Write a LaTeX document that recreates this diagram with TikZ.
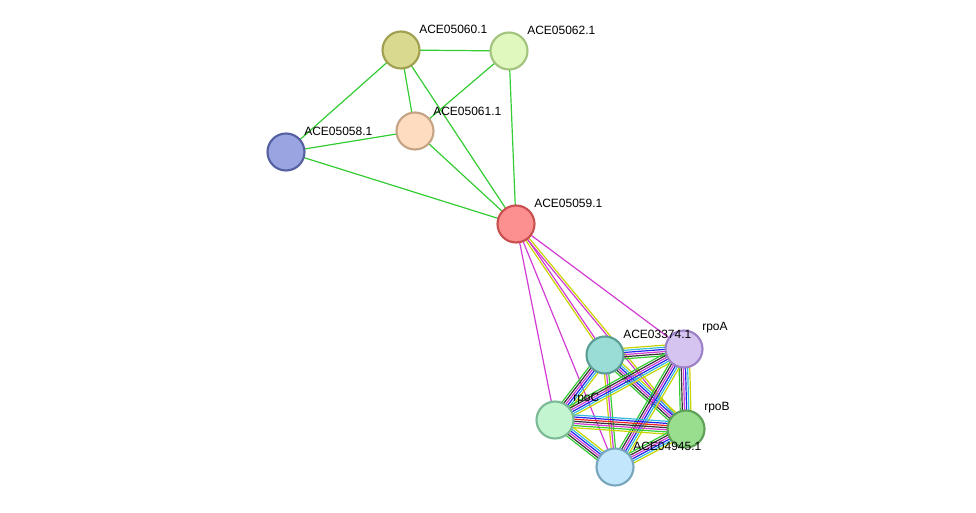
\documentclass[tikz,border=0pt]{standalone}
\usepackage{fontspec}
\setmainfont{Liberation Sans}
\usetikzlibrary{calc}
\definecolor{egr}{HTML}{33CC33}
\definecolor{emg}{HTML}{D23CD2}
\definecolor{eyl}{HTML}{C8D400}
\definecolor{ebk}{HTML}{333333}
\definecolor{ecy}{HTML}{33BBDD}
\definecolor{ebl}{HTML}{2222EE}
\definecolor{erd}{HTML}{EE2222}
\newcommand\bund[4]{%
 \foreach \cl [count=\i] in {#4} {%
  \pgfmathsetmacro\off{(\i-(#3+1)/2)*1.6}
  \draw[\cl,line width=0.9pt] ($(#1)!\off pt!90:(#2)$) -- ($(#2)!\off pt!-90:(#1)$);}}
\newlength\pxu \setlength\pxu{0.75pt}
\tikzset{prot/.style={circle,minimum size=37\pxu,line width=1.6pt,inner sep=0},
 lab/.style={anchor=south west,font=\fontsize{9}{10}\selectfont,inner sep=0}}
\begin{document}
\begin{tikzpicture}[x=0.75pt,y=-0.75pt]
\useasboundingbox (0,0) rectangle (976,513);
\coordinate (A) at (401,50);
\coordinate (B) at (509,51);
\coordinate (C) at (415,131);
\coordinate (D) at (286,152);
\coordinate (E) at (516,224);
\coordinate (F) at (605,355);
\coordinate (G) at (684,349);
\coordinate (H) at (555,420);
\coordinate (I) at (686,429);
\coordinate (J) at (615,467);
\foreach \p/\q in {A/B,A/D,A/C,A/E,B/C,B/E,D/C,D/E,C/E}
  \draw[egr,line width=0.9pt] (\p) -- (\q);
\draw[emg,line width=0.9pt] (E) -- (G);
\draw[emg,line width=0.9pt] (E) -- (H);
\draw[emg,line width=0.9pt] (E) -- (J);
\bund{E}{F}{2}{eyl,emg}
\bund{E}{I}{2}{emg,eyl}
\bund{F}{G}{6}{egr,ebk,emg,ebl,ecy,eyl}
\bund{F}{H}{6}{egr,ebk,emg,ebl,ecy,eyl}
\bund{F}{I}{6}{egr,ebk,emg,ebl,ecy,eyl}
\bund{F}{J}{3}{eyl,emg,egr}
\bund{G}{H}{6}{egr,ebk,emg,ebl,ecy,eyl}
\bund{G}{I}{6}{egr,ebk,emg,ebl,ecy,eyl}
\bund{G}{J}{6}{egr,ebk,emg,ebl,ecy,eyl}
\bund{H}{I}{7}{eyl,egr,emg,ebk,erd,ebl,ecy}
\bund{H}{J}{6}{egr,ebk,emg,ebl,ecy,eyl}
\bund{I}{J}{6}{egr,ebk,emg,ebl,ecy,eyl}
\node[prot,fill={rgb,255:red,217;green,217;blue,143},draw={rgb,255:red,160;green,160;blue,80}] (nA) at (A) {};
\node[prot,fill={rgb,255:red,224;green,247;blue,189},draw={rgb,255:red,163;green,196;blue,126}] (nB) at (B) {};
\node[prot,fill={rgb,255:red,253;green,220;blue,191},draw={rgb,255:red,196;green,164;blue,132}] (nC) at (C) {};
\node[prot,fill={rgb,255:red,154;green,164;blue,224},draw={rgb,255:red,85;green,96;blue,160}] (nD) at (D) {};
\node[prot,fill={rgb,255:red,252;green,144;blue,144},draw={rgb,255:red,200;green,80;blue,80}] (nE) at (E) {};
\node[prot,fill={rgb,255:red,153;green,221;blue,214},draw={rgb,255:red,90;green,158;blue,149}] (nF) at (F) {};
\node[prot,fill={rgb,255:red,213;green,196;blue,240},draw={rgb,255:red,156;green,128;blue,200}] (nG) at (G) {};
\node[prot,fill={rgb,255:red,195;green,245;blue,208},draw={rgb,255:red,122;green,186;blue,149}] (nH) at (H) {};
\node[prot,fill={rgb,255:red,153;green,222;blue,143},draw={rgb,255:red,94;green,160;blue,88}] (nI) at (I) {};
\node[prot,fill={rgb,255:red,194;green,230;blue,251},draw={rgb,255:red,122;green,166;blue,189}] (nJ) at (J) {};
\node[lab] at ($(A)+(18,-16)$) {ACE05060.1};
\node[lab] at ($(B)+(18,-16)$) {ACE05062.1};
\node[lab] at ($(C)+(18,-15)$) {ACE05061.1};
\node[lab] at ($(D)+(18,-16)$) {ACE05058.1};
\node[lab] at ($(E)+(18,-16)$) {ACE05059.1};
\node[lab] at ($(F)+(18,-16)$) {ACE03374.1};
\node[lab] at ($(G)+(18,-16)$) {rpoA};
\node[lab] at ($(H)+(18,-16)$) {rpoC};
\node[lab] at ($(I)+(18,-16)$) {rpoB};
\node[lab] at ($(J)+(18,-16)$) {ACE04945.1};
\end{tikzpicture}
\end{document}
